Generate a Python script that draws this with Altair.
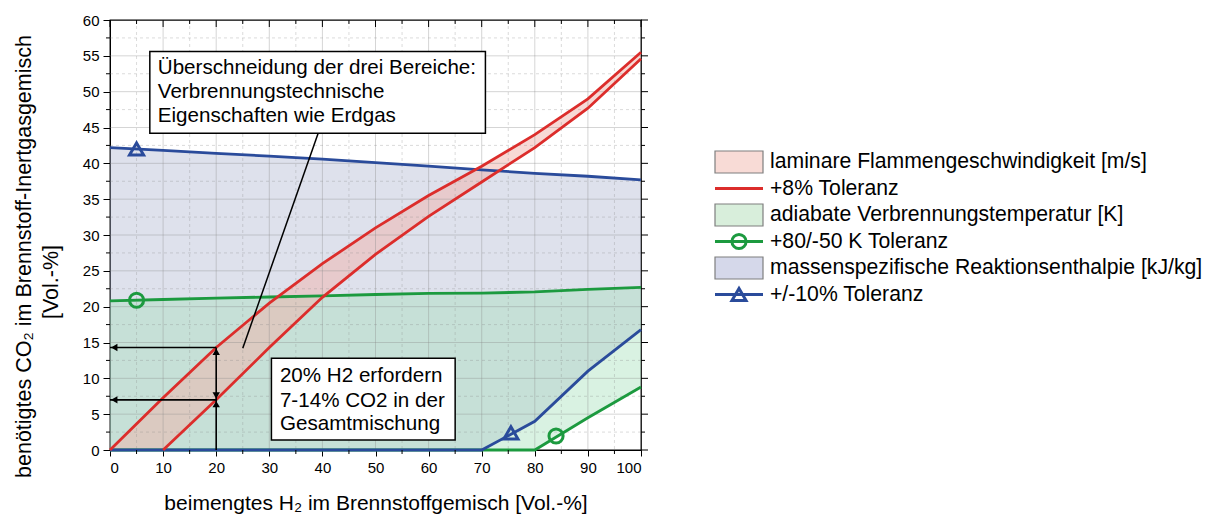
import altair as alt
import pandas as pd

# ---------------- data ----------------
h2 = [0, 10, 20, 30, 40, 50, 60, 70, 80, 90, 100]
red_upper = [0.0, 7.3, 14.3, 20.5, 26.0, 31.0, 35.5, 39.6, 44.0, 49.0, 55.5]
red_lower = [0.0, 0.0, 7.0, 14.3, 21.3, 27.3, 32.6, 37.4, 42.2, 47.7, 54.6]
blue_upper = [42.2, 41.8, 41.4, 41.0, 40.6, 40.1, 39.6, 39.1, 38.6, 38.2, 37.7]
blue_lower = [0, 0, 0, 0, 0, 0, 0, 0, 4.0, 11.0, 16.8]
green_upper = [20.8, 21.0, 21.2, 21.35, 21.5, 21.7, 21.85, 21.9, 22.05, 22.4, 22.7]
green_lower = [0, 0, 0, 0, 0, 0, 0, 0, 0, 4.5, 8.8]

marker_x = [5, 75.5, 5, 84]
marker_y = [42.0, 2.4, 20.9, 1.95]
marker_shape = ["triangle-up", "triangle-up", "circle", "circle"]
marker_color = ["#2a4b9b", "#2a4b9b", "#1c9a3f", "#1c9a3f"]

x_ticks = list(range(0, 101, 10))
y_ticks = list(range(0, 61, 5))
x_minor = [5, 15, 25, 35, 45, 55, 65, 75, 85, 95]
y_minor = [2.5 + 5 * i for i in range(12)]

legend_labels = [
    "laminare Flammengeschwindigkeit [m/s]",
    "+8% Toleranz",
    "adiabate Verbrennungstemperatur [K]",
    "+80/-50 K Toleranz",
    "massenspezifische Reaktionsenthalpie [kJ/kg]",
    "+/-10% Toleranz",
]
legend_kind = ["fill", "line", "fill", "line", "fill", "line"]
legend_color = ["#f8dbd6", "#dc2d2b", "#d8eedb", "#1c9a3f", "#d5d8ea", "#2a4b9b"]
legend_shape = ["", "", "", "circle", "", "triangle-up"]

box1_lines = ["Überschneidung der drei Bereiche:", "Verbrennungstechnische", "Eigenschaften wie Erdgas"]
box2_lines = ["20% H2 erfordern", "7-14% CO2 in der", "Gesamtmischung"]

FONT = "Liberation Sans"
W, H = 531, 430
RED, GREEN, BLUE = "#dc2d2b", "#1c9a3f", "#2a4b9b"

df = pd.DataFrame(dict(x=h2, ru=red_upper, rl=red_lower, bu=blue_upper,
                       bl=blue_lower, gu=green_upper, gl=green_lower))
df_rl = df[df.x >= 10]
df_m = pd.DataFrame(dict(x=marker_x, y=marker_y, shape=marker_shape, color=marker_color))

xs = alt.Scale(domain=[0, 100], nice=False, zero=False)
ys = alt.Scale(domain=[0, 60], nice=False)
xaxis = alt.Axis(values=x_ticks, format="d", grid=False, tickSize=6, tickColor="black",
                 domainColor="black", labelColor="black", labelFont=FONT, labelFontSize=15,
                 labelPadding=4, title="beimengtes H₂ im Brennstoffgemisch [Vol.-%]",
                 titleFont=FONT, titleFontSize=21, titleFontWeight="normal",
                 titleColor="black", titleBaseline="middle", titleY=53)
yaxis = alt.Axis(values=y_ticks, format="d", grid=False, tickSize=7, tickColor="black",
                 domainColor="black", labelColor="black", labelFont=FONT, labelFontSize=15,
                 labelPadding=4, title="benötigtes CO₂ im Brennstoff-Inertgasgemisch",
                 titleFont=FONT, titleFontSize=21.5, titleFontWeight="normal",
                 titleColor="black", titleX=-86, titleY=236, titleAlign="center",
                 titleBaseline="middle", titleAngle=270)


def X(f):
    return alt.X(f, type="quantitative", scale=xs, axis=xaxis)


def Y(f):
    return alt.Y(f, type="quantitative", scale=ys, axis=yaxis)


base = alt.Chart(df)

blue_area = base.mark_area(color="#b1b7d1", opacity=0.42).encode(x=X("x"), y=Y("bl"), y2="bu")
green_area = base.mark_area(color="#a5dfb9", opacity=0.42).encode(x=X("x"), y=Y("gl"), y2="gu")
red_area = base.mark_area(color="#efb4ac", opacity=0.5).encode(x=X("x"), y=Y("rl"), y2="ru")

# grid
gx = pd.DataFrame(dict(v=x_ticks[1:-1]))
gxm = pd.DataFrame(dict(v=x_minor))
gy = pd.DataFrame(dict(v=y_ticks[1:-1]))
gym = pd.DataFrame(dict(v=y_minor))
grid = [
    alt.Chart(gxm).mark_rule(color="#888", opacity=0.3, strokeDash=[3, 3], strokeWidth=1).encode(x=X("v")),
    alt.Chart(gym).mark_rule(color="#888", opacity=0.3, strokeDash=[3, 3], strokeWidth=1).encode(y=Y("v")),
    alt.Chart(gx).mark_rule(color="#888", opacity=0.35, strokeWidth=1).encode(x=X("v")),
    alt.Chart(gy).mark_rule(color="#888", opacity=0.35, strokeWidth=1).encode(y=Y("v")),
]

lw = 2.8
lines = [
    base.mark_line(color=GREEN, strokeWidth=lw).encode(x=X("x"), y=Y("gl")),
    base.mark_line(color=GREEN, strokeWidth=lw).encode(x=X("x"), y=Y("gu")),
    base.mark_line(color=BLUE, strokeWidth=lw).encode(x=X("x"), y=Y("bl")),
    base.mark_line(color=BLUE, strokeWidth=lw).encode(x=X("x"), y=Y("bu")),
    base.mark_line(color=RED, strokeWidth=lw).encode(x=X("x"), y=Y("ru")),
    alt.Chart(df_rl).mark_line(color=RED, strokeWidth=lw).encode(x=X("x"), y=Y("rl")),
]

markers = alt.Chart(df_m).mark_point(filled=False, size=200, strokeWidth=3, opacity=1).encode(
    x=X("x"), y=Y("y"),
    shape=alt.Shape("shape:N", scale=None),
    color=alt.Color("color:N", scale=None),
)

# arrows: 20% H2 -> 7..14.3% CO2
arr_lines = pd.DataFrame(dict(x1=[0, 0, 20], x2=[20, 20, 20], y1=[14.3, 7.0, 0], y2=[14.3, 7.0, 14.3]))
arrow_rules = alt.Chart(arr_lines).mark_rule(color="black", strokeWidth=1.6).encode(
    x=X("x1"), x2="x2", y=Y("y1"), y2="y2")
heads = pd.DataFrame(dict(
    x=[0.8, 0.8, 20, 20, 20],
    y=[14.3, 7.0, 13.7, 7.6, 6.4],
    shape=["triangle-left", "triangle-left", "triangle-up", "triangle-down", "triangle-up"]))
arrow_heads = alt.Chart(heads).mark_point(filled=True, size=55, color="black", opacity=1).encode(
    x=X("x"), y=Y("y"), shape=alt.Shape("shape:N", scale=None))

# annotation boxes
boxes = pd.DataFrame(dict(x1=[7.5, 30.4], x2=[70.7, 65.0], y1=[55.6, 12.8], y2=[44.2, 1.4]))
box_marks = alt.Chart(boxes).mark_rect(fill="white", stroke="black", strokeWidth=1.5).encode(
    x=X("x1"), x2="x2", y=Y("y1"), y2="y2")
conn = pd.DataFrame(dict(x1=[39.2], x2=[25.0], y1=[44.2], y2=[14.2]))
conn_mark = alt.Chart(conn).mark_rule(color="black", strokeWidth=1.5).encode(
    x=X("x1"), x2="x2", y=Y("y1"), y2="y2")
txt = pd.DataFrame(dict(
    x=[9.0] * 3 + [32.0] * 3,
    y=[53.3, 49.9, 46.6, 10.3, 6.8, 3.6],
    t=box1_lines + box2_lines))
txt_mark = alt.Chart(txt).mark_text(align="left", baseline="middle", font=FONT, fontSize=20.6,
                                    color="black").encode(x=X("x"), y=Y("y"), text="t:N")

# frame ticks (top inward, right outward, minor ticks)
tx = pd.DataFrame(dict(v=x_ticks))
txm = pd.DataFrame(dict(v=x_minor))
ty = pd.DataFrame(dict(v=y_ticks))
tym = pd.DataFrame(dict(v=y_minor))
tick_layers = [
    alt.Chart(tx).mark_rule(color="black").encode(x=X("v"), y=alt.value(0), y2=alt.value(7)),
    alt.Chart(txm).mark_rule(color="black").encode(x=X("v"), y=alt.value(0), y2=alt.value(4)),
    alt.Chart(txm).mark_rule(color="black").encode(x=X("v"), y=alt.value(H), y2=alt.value(H + 4)),
    alt.Chart(ty).mark_rule(color="black").encode(y=Y("v"), x=alt.value(W), x2=alt.value(W + 7)),
    alt.Chart(tym).mark_rule(color="black").encode(y=Y("v"), x=alt.value(W), x2=alt.value(W + 4)),
    alt.Chart(tym).mark_rule(color="black").encode(y=Y("v"), x=alt.value(-4), x2=alt.value(0)),
]

ytitle2 = alt.Chart(pd.DataFrame(dict(t=["[Vol.-%]"]))).mark_text(
    font=FONT, fontSize=21.5, angle=270, align="center", baseline="middle", color="black"
).encode(x=alt.value(-58), y=alt.value(262), text="t:N")

plot = alt.layer(
    blue_area, green_area, red_area, *grid, *lines, markers,
    arrow_rules, arrow_heads, conn_mark, box_marks, txt_mark, *tick_layers, ytitle2
).properties(width=W, height=H, view=alt.ViewBackground(stroke="black", strokeWidth=1.3))

# ---------------- legend panel ----------------
LW, LH = 500, 430
ldf = pd.DataFrame(dict(label=legend_labels, kind=legend_kind, col=legend_color, shape=legend_shape))
ldf["yc"] = [142 + 26.5 * i for i in range(len(ldf))]
ldf["y0"] = ldf["yc"] - 11
ldf["y1"] = ldf["yc"] + 11
ly = alt.Scale(domain=[0, LH], reverse=True)
lbase = alt.Chart(ldf)
leg_rect = lbase.transform_filter(alt.datum.kind == "fill").mark_rect(stroke="#7f7f7f", strokeWidth=1.2).encode(
    x=alt.value(15), x2=alt.value(63),
    y=alt.Y("y0:Q", scale=ly, axis=None), y2="y1:Q",
    fill=alt.Color("col:N", scale=None))
leg_line = lbase.transform_filter(alt.datum.kind == "line").mark_rule(strokeWidth=2.8).encode(
    x=alt.value(15), x2=alt.value(63),
    y=alt.Y("yc:Q", scale=ly, axis=None),
    color=alt.Color("col:N", scale=None))
leg_pt = lbase.transform_filter(alt.datum.shape != "").mark_point(
    filled=False, size=200, strokeWidth=3, opacity=1).encode(
    x=alt.value(39),
    y=alt.Y("yc:Q", scale=ly, axis=None),
    shape=alt.Shape("shape:N", scale=None),
    color=alt.Color("col:N", scale=None))
leg_txt = lbase.mark_text(align="left", baseline="middle", font=FONT, fontSize=21.2, color="black").encode(
    x=alt.value(70),
    y=alt.Y("yc:Q", scale=ly, axis=None),
    text="label:N")
legend = alt.layer(leg_rect, leg_line, leg_pt, leg_txt).properties(
    width=LW, height=LH, view=alt.ViewBackground(stroke="transparent"))

chart = alt.hconcat(plot, legend, spacing=49).properties(
    padding={"left": 4, "top": 4, "right": 0, "bottom": 0}
).configure(background="white")

chart.save("out.html", embed_options={"renderer": "svg", "actions": False})
